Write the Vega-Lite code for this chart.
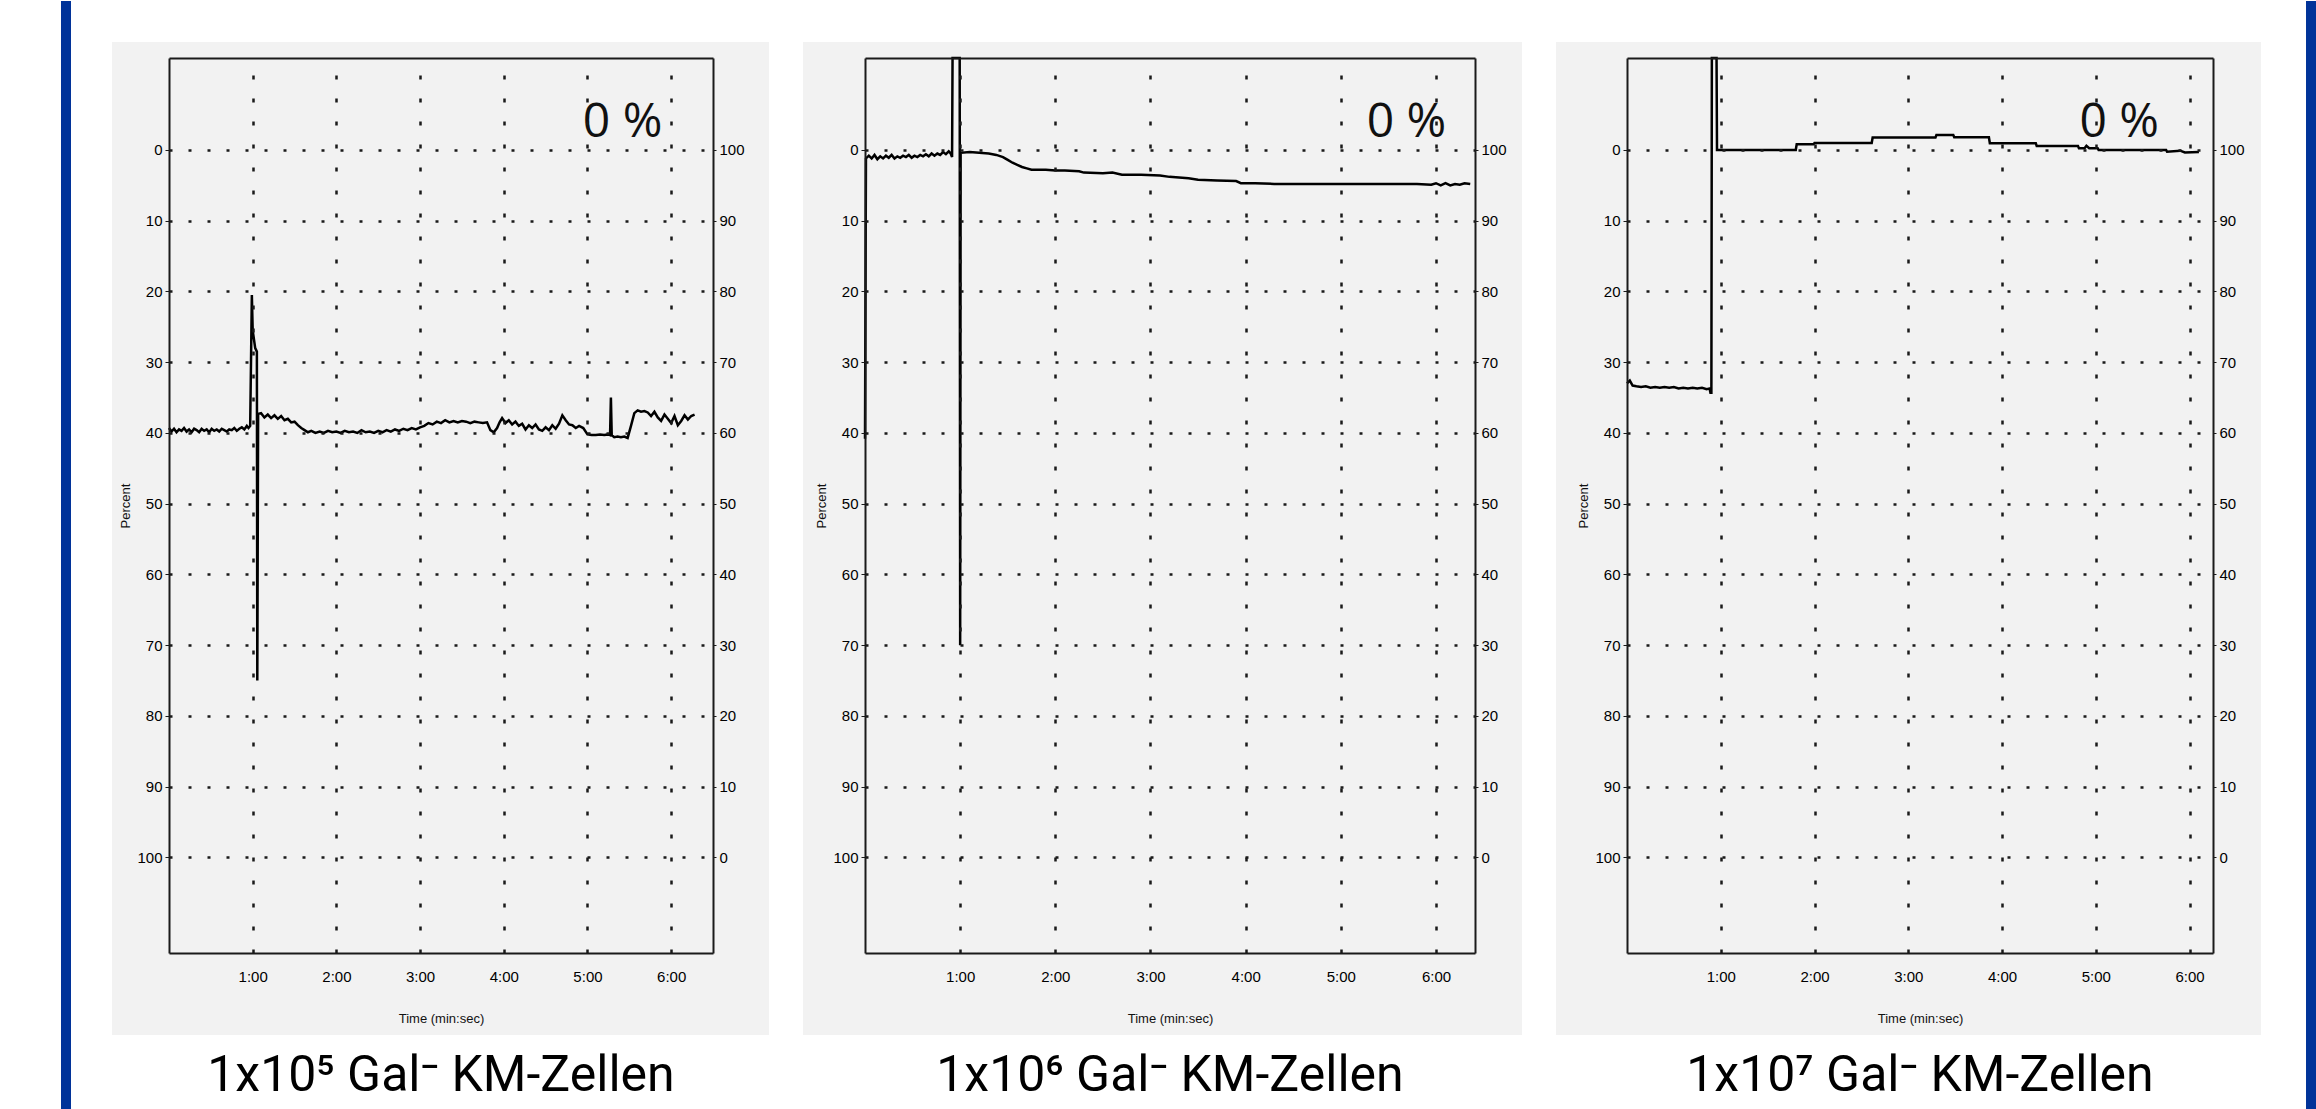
{
  "$schema": "https://vega.github.io/schema/vega-lite/v6.json",
  "background": "#ffffff",
  "autosize": {"type": "pad"},
  "padding": {"left": 60, "top": 0, "right": 0, "bottom": 0},
  "bounds": "flush",
  "spacing": 152,
  "config": {
    "view": {"stroke": null},
    "axis": {
      "labelFont": "Liberation Sans",
      "labelFontSize": 15,
      "labelColor": "#000000",
      "titleFont": "Liberation Sans",
      "titleFontWeight": "normal",
      "titleColor": "#111111",
      "domainColor": "#1a1a1a",
      "domainWidth": 2,
      "tickColor": "#1a1a1a",
      "gridColor": "#1a1a1a",
      "gridOpacity": 1
    },
    "title": {"font": "Roboto", "fontSize": 50, "fontWeight": "normal", "color": "#000000", "orient": "bottom", "anchor": "middle", "frame": "group"}
  },
  "datasets": {
    "p1": [
      {"t":0.00,"p":39.3},{"t":0.03,"p":39.8},{"t":0.06,"p":39.4},{"t":0.09,"p":39.9},{"t":0.12,"p":39.5},{"t":0.15,"p":39.7},{"t":0.18,"p":39.3},{"t":0.21,"p":39.8},{"t":0.24,"p":39.5},{"t":0.27,"p":39.9},{"t":0.30,"p":39.4},{"t":0.33,"p":39.6},{"t":0.36,"p":39.9},{"t":0.39,"p":39.4},{"t":0.42,"p":39.7},{"t":0.45,"p":39.5},{"t":0.48,"p":39.9},{"t":0.51,"p":39.4},{"t":0.54,"p":39.7},{"t":0.57,"p":39.5},{"t":0.60,"p":39.8},{"t":0.63,"p":39.4},{"t":0.66,"p":39.6},{"t":0.69,"p":39.8},{"t":0.72,"p":39.5},{"t":0.75,"p":39.6},{"t":0.78,"p":39.3},{"t":0.81,"p":39.7},{"t":0.84,"p":39.4},{"t":0.87,"p":39.2},{"t":0.90,"p":39.5},{"t":0.93,"p":39.0},{"t":0.95,"p":39.3},{"t":0.97,"p":39.0},
      {"t":0.99,"p":20.5},{"t":1.00,"p":25.5},{"t":1.03,"p":28.0},{"t":1.05,"p":28.5},{"t":1.055,"p":75.0},{"t":1.065,"p":37.3},
      {"t":1.10,"p":37.2},{"t":1.14,"p":37.8},{"t":1.18,"p":37.4},{"t":1.22,"p":37.9},{"t":1.26,"p":37.5},{"t":1.30,"p":38.0},{"t":1.34,"p":37.6},{"t":1.38,"p":38.2},{"t":1.42,"p":38.0},{"t":1.46,"p":38.5},{"t":1.50,"p":38.4},{"t":1.54,"p":38.9},{"t":1.58,"p":39.3},{"t":1.62,"p":39.6},{"t":1.66,"p":39.9},{"t":1.70,"p":39.7},{"t":1.75,"p":40.0},{"t":1.80,"p":39.8},{"t":1.85,"p":40.0},{"t":1.90,"p":39.7},{"t":1.95,"p":39.9},{"t":2.00,"p":39.8},{"t":2.05,"p":40.0},{"t":2.10,"p":39.7},{"t":2.15,"p":39.9},{"t":2.20,"p":39.8},{"t":2.25,"p":40.0},{"t":2.30,"p":39.6},{"t":2.35,"p":39.9},{"t":2.40,"p":39.8},{"t":2.45,"p":40.0},{"t":2.50,"p":39.7},{"t":2.55,"p":39.9},{"t":2.60,"p":39.6},{"t":2.65,"p":39.8},{"t":2.70,"p":39.5},{"t":2.75,"p":39.7},{"t":2.80,"p":39.4},{"t":2.85,"p":39.6},{"t":2.90,"p":39.3},{"t":2.95,"p":39.5},{"t":3.00,"p":39.2},{"t":3.05,"p":39.0},{"t":3.10,"p":38.6},{"t":3.15,"p":38.8},{"t":3.20,"p":38.4},{"t":3.25,"p":38.6},{"t":3.30,"p":38.2},{"t":3.35,"p":38.5},{"t":3.40,"p":38.3},{"t":3.45,"p":38.5},{"t":3.50,"p":38.3},{"t":3.55,"p":38.4},{"t":3.60,"p":38.6},{"t":3.65,"p":38.4},{"t":3.70,"p":38.5},{"t":3.75,"p":38.6},{"t":3.80,"p":38.5},{"t":3.84,"p":39.6},{"t":3.88,"p":39.9},{"t":3.92,"p":39.3},{"t":3.95,"p":38.5},{"t":3.98,"p":37.9},{"t":4.02,"p":38.6},{"t":4.06,"p":38.2},{"t":4.10,"p":38.8},{"t":4.14,"p":38.4},{"t":4.18,"p":39.0},{"t":4.22,"p":38.7},{"t":4.26,"p":39.5},{"t":4.30,"p":38.9},{"t":4.34,"p":39.3},{"t":4.38,"p":38.8},{"t":4.42,"p":39.5},{"t":4.46,"p":39.7},{"t":4.50,"p":39.2},{"t":4.54,"p":39.6},{"t":4.58,"p":38.9},{"t":4.62,"p":39.4},{"t":4.66,"p":38.7},{"t":4.70,"p":37.5},{"t":4.74,"p":38.2},{"t":4.78,"p":38.8},{"t":4.82,"p":38.9},{"t":4.86,"p":39.3},{"t":4.90,"p":39.0},{"t":4.95,"p":39.3},{"t":5.00,"p":40.2},{"t":5.05,"p":40.3},{"t":5.10,"p":40.3},{"t":5.15,"p":40.2},{"t":5.20,"p":40.3},{"t":5.25,"p":40.2},{"t":5.27,"p":40.3},{"t":5.28,"p":35.0},{"t":5.29,"p":40.3},{"t":5.32,"p":40.6},{"t":5.36,"p":40.5},{"t":5.40,"p":40.6},{"t":5.44,"p":40.5},{"t":5.48,"p":40.7},{"t":5.52,"p":39.0},{"t":5.56,"p":37.2},{"t":5.60,"p":36.8},{"t":5.64,"p":37.0},{"t":5.68,"p":36.9},{"t":5.72,"p":37.1},{"t":5.76,"p":37.6},{"t":5.80,"p":37.0},{"t":5.84,"p":37.8},{"t":5.88,"p":38.3},{"t":5.92,"p":37.4},{"t":5.96,"p":38.0},{"t":6.00,"p":38.6},{"t":6.04,"p":37.6},{"t":6.08,"p":38.9},{"t":6.12,"p":38.3},{"t":6.16,"p":37.5},{"t":6.20,"p":38.1},{"t":6.24,"p":37.6},{"t":6.28,"p":37.4}
    ],
    "p2": [
      {"t":0.00,"p":40.8},{"t":0.01,"p":1.2},{"t":0.04,"p":0.8},{"t":0.07,"p":1.2},{"t":0.10,"p":0.7},{"t":0.13,"p":1.3},{"t":0.16,"p":0.9},{"t":0.19,"p":1.2},{"t":0.22,"p":0.8},{"t":0.25,"p":1.1},{"t":0.28,"p":0.7},{"t":0.31,"p":1.2},{"t":0.34,"p":0.9},{"t":0.37,"p":1.1},{"t":0.40,"p":0.8},{"t":0.43,"p":1.0},{"t":0.46,"p":0.7},{"t":0.49,"p":1.1},{"t":0.52,"p":0.8},{"t":0.55,"p":1.0},{"t":0.58,"p":0.7},{"t":0.61,"p":0.9},{"t":0.64,"p":0.6},{"t":0.67,"p":0.9},{"t":0.70,"p":0.5},{"t":0.73,"p":0.8},{"t":0.76,"p":0.5},{"t":0.79,"p":0.7},{"t":0.82,"p":0.3},{"t":0.85,"p":0.6},{"t":0.88,"p":0.2},{"t":0.90,"p":0.5},{"t":0.915,"p":1.0},{"t":0.92,"p":-13.0},
      {"t":0.995,"p":-13.0},{"t":1.0,"p":70.0},{"t":1.005,"p":0.4},{"t":1.10,"p":0.3},{"t":1.20,"p":0.4},{"t":1.30,"p":0.5},{"t":1.38,"p":0.7},{"t":1.45,"p":1.0},{"t":1.50,"p":1.4},{"t":1.55,"p":1.8},{"t":1.60,"p":2.1},{"t":1.65,"p":2.4},{"t":1.70,"p":2.6},{"t":1.75,"p":2.8},{"t":1.90,"p":2.8},{"t":2.00,"p":2.9},{"t":2.10,"p":2.9},{"t":2.25,"p":3.0},{"t":2.30,"p":3.2},{"t":2.50,"p":3.3},{"t":2.60,"p":3.2},{"t":2.70,"p":3.5},{"t":2.90,"p":3.5},{"t":3.10,"p":3.6},{"t":3.20,"p":3.8},{"t":3.40,"p":4.0},{"t":3.50,"p":4.2},{"t":3.70,"p":4.3},{"t":3.90,"p":4.4},{"t":3.95,"p":4.7},{"t":4.10,"p":4.7},{"t":4.30,"p":4.8},{"t":4.60,"p":4.8},{"t":4.90,"p":4.8},{"t":5.20,"p":4.8},{"t":5.50,"p":4.8},{"t":5.80,"p":4.8},{"t":5.95,"p":4.9},{"t":6.00,"p":4.7},{"t":6.05,"p":5.0},{"t":6.10,"p":4.7},{"t":6.15,"p":5.0},{"t":6.20,"p":4.8},{"t":6.25,"p":4.9},{"t":6.30,"p":4.7},{"t":6.36,"p":4.8}
    ],
    "p3": [
      {"t":0.00,"p":33.0},{"t":0.03,"p":32.6},{"t":0.06,"p":33.3},{"t":0.10,"p":33.4},{"t":0.15,"p":33.5},{"t":0.20,"p":33.4},{"t":0.25,"p":33.6},{"t":0.30,"p":33.5},{"t":0.35,"p":33.6},{"t":0.40,"p":33.5},{"t":0.45,"p":33.6},{"t":0.50,"p":33.5},{"t":0.55,"p":33.7},{"t":0.60,"p":33.6},{"t":0.65,"p":33.7},{"t":0.70,"p":33.6},{"t":0.75,"p":33.7},{"t":0.80,"p":33.6},{"t":0.85,"p":33.8},{"t":0.88,"p":33.7},{"t":0.89,"p":34.3},{"t":0.90,"p":34.3},{"t":0.905,"p":-13.0},{"t":0.955,"p":-13.0},{"t":0.96,"p":0.0},
      {"t":1.80,"p":0.0},{"t":1.81,"p":-0.8},{"t":1.99,"p":-0.8},{"t":2.00,"p":-1.0},{"t":2.61,"p":-1.0},{"t":2.62,"p":-1.75},{"t":3.29,"p":-1.75},{"t":3.30,"p":-2.1},{"t":3.48,"p":-2.1},{"t":3.49,"p":-1.8},{"t":3.86,"p":-1.8},{"t":3.87,"p":-0.95},{"t":4.36,"p":-0.95},{"t":4.37,"p":-0.55},{"t":4.81,"p":-0.55},{"t":4.82,"p":-0.25},{"t":4.88,"p":-0.25},{"t":4.90,"p":-0.6},{"t":4.93,"p":-0.25},{"t":5.02,"p":-0.25},{"t":5.03,"p":0.0},{"t":5.75,"p":0.0},{"t":5.76,"p":0.25},{"t":5.90,"p":0.1},{"t":5.95,"p":0.35},{"t":6.10,"p":0.3}
    ]
  },
  "hconcat": [
    {
      "width": 544,
      "height": 895,
      "title": {"text": "1x10⁵ Gal⁻ KM-Zellen", "offset": -59},
      "resolve": {"axis": {"x": "independent", "y": "independent"}},
      "layer": [
        {
          "data": {"values": [{}]},
          "mark": {"type": "rect", "color": "#f2f2f2"},
          "encoding": {
            "x": {"datum": -0.681, "type": "quantitative", "scale": {"domain": [0, 6.5], "nice": false, "zero": false}, "axis": null},
            "x2": {"datum": 7.169},
            "y": {"datum": -15.26, "type": "quantitative", "scale": {"domain": [-13, 113.5], "reverse": true, "nice": false, "zero": false}, "axis": null},
            "y2": {"datum": 125.1}
          }
        },
        {
          "data": {"values": [{}]},
          "mark": {"type": "rect", "color": "#003399"},
          "encoding": {
            "x": {"datum": -1.2905, "type": "quantitative", "scale": {"domain": [0, 6.5], "nice": false, "zero": false}, "axis": null},
            "x2": {"datum": -1.171},
            "y": {"datum": -21.06, "type": "quantitative", "scale": {"domain": [-13, 113.5], "reverse": true, "nice": false, "zero": false}, "axis": null},
            "y2": {"datum": 135.69}
          }
        },
        {
          "data": {"name": "p1"},
          "mark": {"type": "line", "color": "#000000", "strokeWidth": 2.5},
          "encoding": {
            "x": {"field": "t", "type": "quantitative", "scale": {"domain": [0, 6.5], "nice": false, "zero": false},
                  "axis": {"orient": "bottom", "values": [1,2,3,4,5,6], "labelExpr": "datum.value + ':00'", "grid": true, "gridDash": [4, 19], "gridWidth": 2.5, "ticks": false, "tickSize": 0, "labelPadding": 16, "title": "Time (min:sec)", "titleFontSize": 13, "titlePadding": 28, "zindex": 1}},
            "y": {"field": "p", "type": "quantitative", "scale": {"domain": [-13, 113.5], "reverse": true, "nice": false, "zero": false},
                  "axis": {"orient": "left", "values": [0,10,20,30,40,50,60,70,80,90,100], "grid": true, "gridDash": [3, 16], "gridWidth": 2.5, "tickSize": 4, "labelPadding": 3, "title": "Percent", "titleFontSize": 13, "titlePadding": 4, "zindex": 1}}
          }
        },
        {
          "data": {"values": [{"label": "0 %"}]},
          "mark": {"type": "text", "font": "Open Sans", "fontSize": 48, "baseline": "alphabetic", "align": "center", "color": "#111111"},
          "encoding": {
            "x": {"datum": 5.42, "type": "quantitative", "scale": {"domain": [0, 6.5], "nice": false, "zero": false},
                  "axis": {"orient": "top", "labels": false, "ticks": false, "grid": false, "title": null, "domain": true, "zindex": 1}},
            "y": {"datum": -1.9, "type": "quantitative", "scale": {"domain": [-13, 113.5], "reverse": true, "nice": false, "zero": false},
                  "axis": {"orient": "right", "values": [0,10,20,30,40,50,60,70,80,90,100], "labelExpr": "100 - datum.value", "grid": false, "tickSize": 3, "labelPadding": 3, "title": null, "zindex": 1}},
            "text": {"field": "label"}
          }
        }
      ]
    },
    {
      "width": 610,
      "height": 895,
      "title": {"text": "1x10⁶ Gal⁻ KM-Zellen", "offset": 16},
      "resolve": {"axis": {"x": "independent", "y": "independent"}},
      "layer": [
        {
          "data": {"values": [{}]},
          "mark": {"type": "rect", "color": "#f2f2f2"},
          "encoding": {
            "x": {"datum": -0.652, "type": "quantitative", "scale": {"domain": [0, 6.41], "nice": false, "zero": false}, "axis": null},
            "x2": {"datum": 6.904},
            "y": {"datum": -15.26, "type": "quantitative", "scale": {"domain": [-13, 113.5], "reverse": true, "nice": false, "zero": false}, "axis": null},
            "y2": {"datum": 125.1}
          }
        },
        {
          "data": {"name": "p2"},
          "mark": {"type": "line", "color": "#000000", "strokeWidth": 2.5},
          "encoding": {
            "x": {"field": "t", "type": "quantitative", "scale": {"domain": [0, 6.41], "nice": false, "zero": false},
                  "axis": {"orient": "bottom", "values": [1,2,3,4,5,6], "labelExpr": "datum.value + ':00'", "grid": true, "gridDash": [4, 19], "gridWidth": 2.5, "ticks": false, "tickSize": 0, "labelPadding": 16, "title": "Time (min:sec)", "titleFontSize": 13, "titlePadding": 28, "zindex": 1}},
            "y": {"field": "p", "type": "quantitative", "scale": {"domain": [-13, 113.5], "reverse": true, "nice": false, "zero": false},
                  "axis": {"orient": "left", "values": [0,10,20,30,40,50,60,70,80,90,100], "grid": true, "gridDash": [3, 16], "gridWidth": 2.5, "tickSize": 4, "labelPadding": 3, "title": "Percent", "titleFontSize": 13, "titlePadding": 4, "zindex": 1}}
          }
        },
        {
          "data": {"values": [{"label": "0 %"}]},
          "mark": {"type": "text", "font": "Open Sans", "fontSize": 48, "baseline": "alphabetic", "align": "center", "color": "#111111"},
          "encoding": {
            "x": {"datum": 5.69, "type": "quantitative", "scale": {"domain": [0, 6.41], "nice": false, "zero": false},
                  "axis": {"orient": "top", "labels": false, "ticks": false, "grid": false, "title": null, "domain": true, "zindex": 1}},
            "y": {"datum": -1.9, "type": "quantitative", "scale": {"domain": [-13, 113.5], "reverse": true, "nice": false, "zero": false},
                  "axis": {"orient": "right", "values": [0,10,20,30,40,50,60,70,80,90,100], "labelExpr": "100 - datum.value", "grid": false, "tickSize": 3, "labelPadding": 3, "title": null, "zindex": 1}},
            "text": {"field": "label"}
          }
        }
      ]
    },
    {
      "width": 586,
      "height": 895,
      "title": {"text": "1x10⁷ Gal⁻ KM-Zellen", "offset": -59},
      "resolve": {"axis": {"x": "independent", "y": "independent"}},
      "layer": [
        {
          "data": {"values": [{}]},
          "mark": {"type": "rect", "color": "#f2f2f2"},
          "encoding": {
            "x": {"datum": -0.757, "type": "quantitative", "scale": {"domain": [0, 6.25], "nice": false, "zero": false}, "axis": null},
            "x2": {"datum": 6.762},
            "y": {"datum": -15.26, "type": "quantitative", "scale": {"domain": [-13, 113.5], "reverse": true, "nice": false, "zero": false}, "axis": null},
            "y2": {"datum": 125.1}
          }
        },
        {
          "data": {"values": [{}]},
          "mark": {"type": "rect", "color": "#003399"},
          "encoding": {
            "x": {"datum": 7.242, "type": "quantitative", "scale": {"domain": [0, 6.25], "nice": false, "zero": false}, "axis": null},
            "x2": {"datum": 7.359},
            "y": {"datum": -21.06, "type": "quantitative", "scale": {"domain": [-13, 113.5], "reverse": true, "nice": false, "zero": false}, "axis": null},
            "y2": {"datum": 135.69}
          }
        },
        {
          "data": {"name": "p3"},
          "mark": {"type": "line", "color": "#000000", "strokeWidth": 2.5},
          "encoding": {
            "x": {"field": "t", "type": "quantitative", "scale": {"domain": [0, 6.25], "nice": false, "zero": false},
                  "axis": {"orient": "bottom", "values": [1,2,3,4,5,6], "labelExpr": "datum.value + ':00'", "grid": true, "gridDash": [4, 19], "gridWidth": 2.5, "ticks": false, "tickSize": 0, "labelPadding": 16, "title": "Time (min:sec)", "titleFontSize": 13, "titlePadding": 28, "zindex": 1}},
            "y": {"field": "p", "type": "quantitative", "scale": {"domain": [-13, 113.5], "reverse": true, "nice": false, "zero": false},
                  "axis": {"orient": "left", "values": [0,10,20,30,40,50,60,70,80,90,100], "grid": true, "gridDash": [3, 16], "gridWidth": 2.5, "tickSize": 4, "labelPadding": 3, "title": "Percent", "titleFontSize": 13, "titlePadding": 4, "zindex": 1}}
          }
        },
        {
          "data": {"values": [{"label": "0 %"}]},
          "mark": {"type": "text", "font": "Open Sans", "fontSize": 48, "baseline": "alphabetic", "align": "center", "color": "#111111"},
          "encoding": {
            "x": {"datum": 5.25, "type": "quantitative", "scale": {"domain": [0, 6.25], "nice": false, "zero": false},
                  "axis": {"orient": "top", "labels": false, "ticks": false, "grid": false, "title": null, "domain": true, "zindex": 1}},
            "y": {"datum": -1.9, "type": "quantitative", "scale": {"domain": [-13, 113.5], "reverse": true, "nice": false, "zero": false},
                  "axis": {"orient": "right", "values": [0,10,20,30,40,50,60,70,80,90,100], "labelExpr": "100 - datum.value", "grid": false, "tickSize": 3, "labelPadding": 3, "title": null, "zindex": 1}},
            "text": {"field": "label"}
          }
        }
      ]
    }
  ]
}
